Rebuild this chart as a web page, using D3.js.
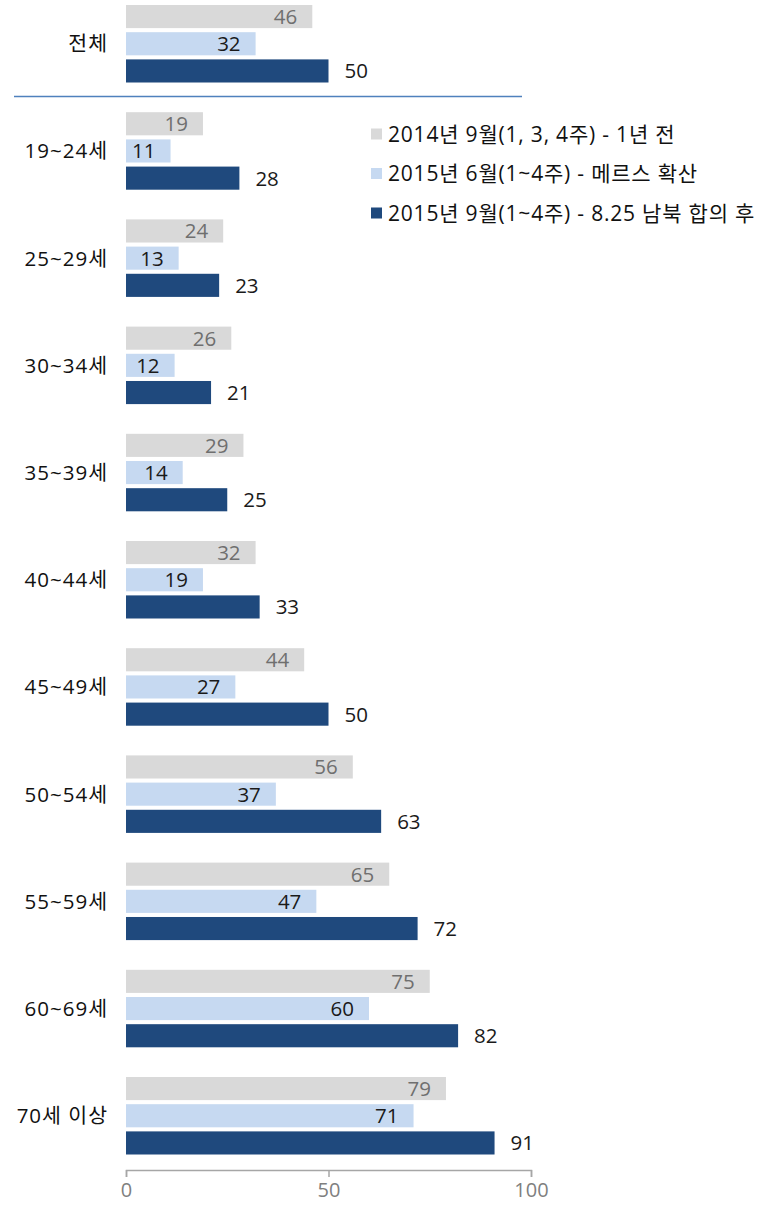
<!DOCTYPE html>
<html><head><meta charset="utf-8">
<script src="https://cdn.jsdelivr.net/npm/d3@7"></script>
<style>body{margin:0;background:#fff}svg{display:block}text{font-family:"Open Sans","Noto Sans CJK KR",sans-serif}</style>
</head><body><svg id="c" width="776" height="1205"></svg>
<script>
const categories = ["전체","19~24세","25~29세","30~34세","35~39세","40~44세","45~49세","50~54세","55~59세","60~69세","70세 이상"];
const seriesNames = ["2014년 9월(1, 3, 4주) - 1년 전","2015년 6월(1~4주) - 메르스 확산","2015년 9월(1~4주) - 8.25 남북 합의 후"];
const s2014_09 = [46,19,24,26,29,32,44,56,65,75,79];
const s2015_06 = [32,11,13,12,14,19,27,37,47,60,71];
const s2015_09 = [50,28,23,21,25,33,50,63,72,82,91];
const tickValues = [0,50,100];
const colors = ["#d9d9d9","#c6d9f1","#1f497d"];
const labelColors = ["#6f6f6f","#1a1a1a","#1a1a1a"];
const FS = 20.5;

const svg = d3.select("#c");
const x = d3.scaleLinear().domain([0,100]).range([126,531]);
const y = d3.scaleBand().domain(categories).range([5, 5+107.2*11]).paddingInner(0).paddingOuter(0);
const inner = d3.scaleBand().domain([0,1,2]).range([0,77.5]).paddingInner(0.15);
const series = [s2014_09, s2015_06, s2015_09];

const g = svg.append("g");
categories.forEach((c,i)=>{
  const gg = g.append("g").attr("transform",`translate(0,${y(c)})`);
  series.forEach((s,k)=>{
    gg.append("rect").attr("x",x(0)).attr("y",inner(k)).attr("width",x(s[i])-x(0)).attr("height",inner.bandwidth()).attr("fill",colors[k]);
    const t = gg.append("text").attr("y",inner(k)+inner.bandwidth()/2).attr("dy","0.36em")
      .attr("font-size",FS).attr("fill",labelColors[k]).text(s[i]);
    if(k<2) t.attr("x",x(s[i])-15).attr("text-anchor","end");
    else t.attr("x",x(s[i])+16).attr("text-anchor","start");
  });
  gg.append("text").attr("x",108).attr("y",inner(1)+inner.bandwidth()/2).attr("dy","0.36em")
    .attr("text-anchor","end").attr("font-size",FS).attr("letter-spacing",1).attr("fill","#111").text(c);
});

// separator
svg.append("line").attr("x1",14).attr("x2",522).attr("y1",96.5).attr("y2",96.5).attr("stroke","#4f81bd").attr("stroke-width",1.5);

// axis
const ax = svg.append("g").attr("transform","translate(0,1170)")
  .call(d3.axisBottom(x).tickValues(tickValues).tickSize(7).tickPadding(6).tickFormat(d3.format("d")));
ax.select(".domain").attr("stroke","#a6a6a6").attr("stroke-width",1.5).attr("d","M126.5,7V0.5H531.5V7");
ax.selectAll(".tick line").attr("stroke","#a6a6a6").attr("stroke-width",1.5);
ax.selectAll(".tick text").attr("fill","#7f7f7f").attr("font-size",20).attr("font-family",'"Open Sans","Noto Sans CJK KR",sans-serif');

// legend
const lg = svg.append("g");
seriesNames.forEach((n,k)=>{
  const cy = 134 + k*39.5;
  lg.append("rect").attr("x",371).attr("y",cy-5.5).attr("width",11).attr("height",11).attr("fill",colors[k]);
  lg.append("text").attr("x",388).attr("y",cy).attr("dy","0.36em").attr("font-size",21).attr("letter-spacing",0.8).attr("fill","#111").text(n);
});
</script></body></html>
